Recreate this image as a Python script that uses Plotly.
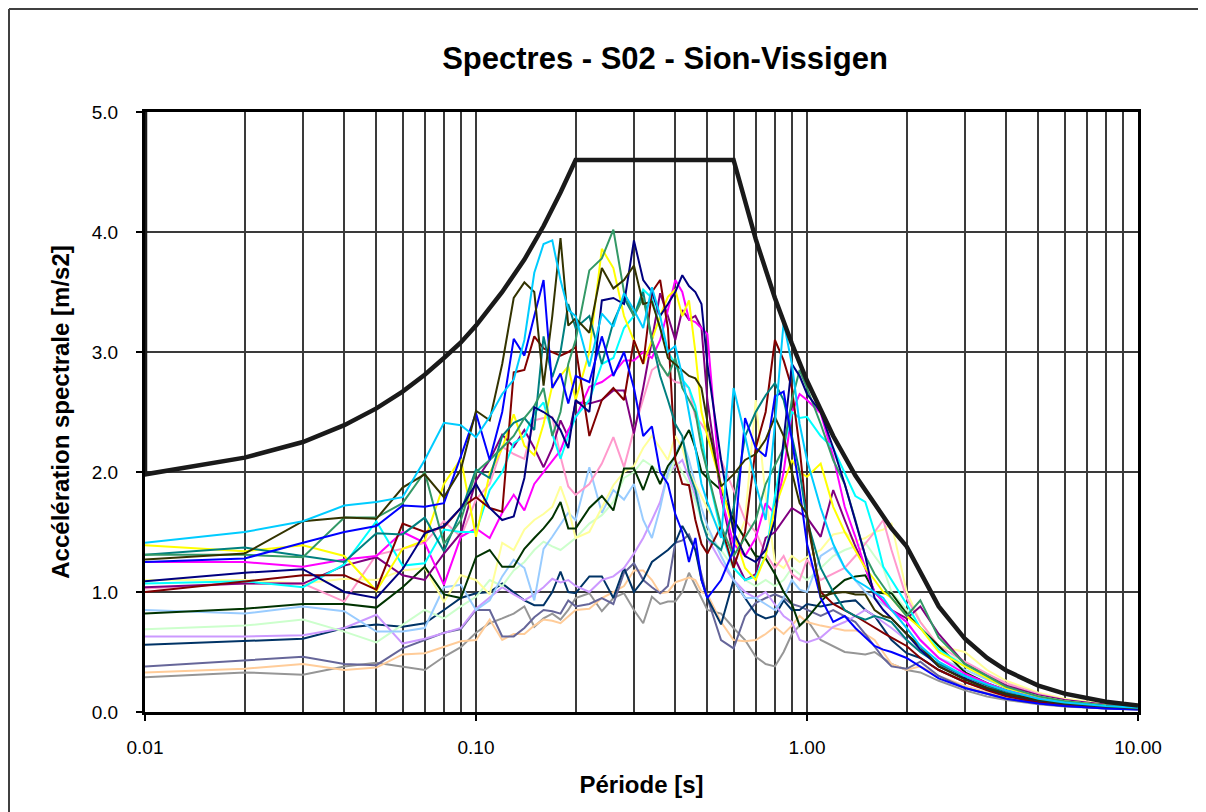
import plotly.graph_objects as go

# ---------------- data ----------------
periods = [0.01, 0.02, 0.03, 0.04, 0.05, 0.06, 0.07, 0.08, 0.09, 0.10,
           0.11, 0.12, 0.13, 0.14, 0.15, 0.16, 0.17, 0.18, 0.19, 0.20,
           0.22, 0.24, 0.26, 0.28, 0.30, 0.32, 0.34, 0.36, 0.38, 0.40,
           0.42, 0.44, 0.46, 0.48, 0.50, 0.55, 0.60, 0.65, 0.70, 0.75,
           0.80, 0.85, 0.90, 0.95, 1.0, 1.1, 1.2, 1.3, 1.4, 1.5,
           1.6, 1.7, 1.8, 2.0, 2.2, 2.5, 3.0, 3.5, 4.0, 5.0,
           6.0, 8.0, 10.0]

s_deepsky = [1.41, 1.50, 1.59, 1.72, 1.75, 1.79, 2.10, 2.41, 2.39, 2.29,
             2.46, 2.65, 2.77, 3.10, 3.66, 3.90, 3.93, 3.60, 3.35, 3.30,
             2.88, 3.32, 3.21, 3.49, 3.35, 3.20, 3.54, 3.30, 3.00, 3.05,
             2.80, 2.50, 2.20, 1.90, 1.75, 1.45, 2.70, 2.30, 1.90, 1.60,
             2.40, 3.25, 2.90, 2.40, 2.10, 1.70, 1.40, 1.20, 1.10, 1.05,
             1.00, 0.95, 0.85, 0.70, 0.55, 0.42, 0.30, 0.23, 0.18, 0.11,
             0.08, 0.05, 0.035]
s_olive = [1.27, 1.32, 1.59, 1.62, 1.61, 1.87, 1.98, 1.79, 2.02, 2.51,
           2.43, 2.90, 3.45, 3.58, 3.50, 2.72, 3.30, 3.95, 3.22, 3.28,
           3.16, 3.70, 3.53, 3.60, 3.72, 3.40, 3.42, 3.20, 2.95, 2.90,
           2.85, 2.80, 2.78, 2.70, 2.42, 1.88, 1.98, 2.10, 2.15, 2.27,
           2.46, 2.30, 2.00, 1.74, 1.65, 0.96, 0.99, 1.00, 0.98, 0.98,
           0.85, 0.80, 0.78, 0.65, 0.55, 0.38, 0.27, 0.20, 0.15, 0.10,
           0.07, 0.045, 0.03]
s_seagreen = [1.31, 1.31, 1.29, 1.62, 1.62, 1.74, 2.00, 1.40, 1.60, 2.00,
              2.10, 2.20, 2.30, 2.45, 2.55, 2.70, 2.30, 2.50, 2.90, 3.10,
              3.68, 3.78, 4.02, 3.50, 3.30, 3.45, 3.10, 2.90, 2.80, 2.95,
              2.70, 2.60, 2.50, 2.20, 2.00, 1.55, 1.30, 1.45, 1.60, 1.90,
              2.05, 2.20, 2.60, 2.85, 2.70, 2.40, 2.10, 1.90, 1.60, 1.30,
              1.15, 1.05, 0.95, 0.80, 0.93, 0.62, 0.40, 0.30, 0.21, 0.13,
              0.09, 0.055, 0.04]
s_teal = [1.31, 1.37, 1.30, 1.25, 1.49, 1.48, 1.62, 1.34, 1.67, 2.02,
          1.95, 2.30, 2.41, 2.45, 2.35, 3.13, 2.79, 3.00, 3.40, 3.20,
          3.30, 2.90, 3.25, 3.45, 3.30, 3.50, 3.10, 2.80, 2.60, 2.40,
          2.30, 2.00, 1.85, 1.60, 1.45, 1.35, 1.70, 2.30, 2.50, 2.64,
          2.74, 2.60, 2.30, 2.00, 1.60, 1.20, 1.00, 0.85, 0.80, 0.77,
          0.80, 0.78, 0.75, 0.60, 0.50, 0.40, 0.30, 0.22, 0.16, 0.10,
          0.07, 0.045, 0.03]
s_blue = [1.25, 1.28, 1.41, 1.50, 1.55, 1.72, 1.71, 1.74, 2.13, 2.49,
          2.10, 2.50, 3.11, 2.97, 3.30, 3.60, 2.70, 2.82, 2.57, 2.80,
          2.75, 3.13, 2.80, 3.00, 2.70, 2.30, 2.38, 2.00, 1.90, 1.65,
          1.50, 1.25, 1.45, 1.10, 0.95, 1.10, 1.35, 2.45, 2.20, 2.13,
          2.63, 2.67, 2.27, 1.85, 1.40, 0.95, 0.75, 0.80, 0.70, 0.62,
          0.55, 0.52, 0.50, 0.45, 0.38, 0.28, 0.20, 0.15, 0.11, 0.07,
          0.05, 0.03, 0.02]
s_navy = [1.09, 1.16, 1.19, 1.00, 0.95, 1.19, 1.49, 1.55, 1.70, 1.90,
          1.70, 1.60, 1.63, 1.95, 2.54, 2.50, 2.45, 2.35, 2.20, 2.60,
          2.50, 3.43, 3.45, 3.40, 3.93, 3.60, 3.50, 3.30, 3.40, 3.50,
          3.64, 3.55, 3.50, 3.40, 2.90, 2.10, 1.50, 1.30, 1.25, 1.35,
          1.60, 2.30, 2.90, 2.80, 2.65, 2.50, 2.20, 1.90, 1.60, 1.30,
          0.95, 0.85, 0.78, 0.65, 0.52, 0.38, 0.28, 0.20, 0.15, 0.10,
          0.07, 0.045, 0.03]
s_darkred = [1.00, 1.09, 1.14, 1.14, 1.02, 1.57, 1.50, 1.54, 1.70, 1.79,
             1.70, 1.67, 2.83, 2.85, 3.13, 3.03, 3.00, 2.97, 3.00, 3.04,
             2.30, 2.60, 2.70, 2.60, 3.10, 2.90, 3.50, 3.60, 3.20, 2.10,
             1.90, 1.89, 1.60, 1.40, 1.32, 1.55, 1.20, 1.50, 2.20, 2.50,
             3.10, 2.93, 2.70, 2.20, 1.60, 1.00, 0.90, 0.85, 0.80, 0.75,
             0.70, 0.66, 0.62, 0.55, 0.45, 0.35, 0.25, 0.18, 0.13, 0.08,
             0.06, 0.035, 0.025]
s_magenta = [1.25, 1.25, 1.21, 1.27, 1.30, 1.50, 1.41, 1.06, 1.46, 1.53,
             1.45, 1.66, 1.81, 1.68, 1.90, 2.00, 2.10, 2.18, 2.35, 2.45,
             2.71, 2.75, 2.82, 2.93, 2.93, 3.00, 2.95, 3.10, 3.35, 3.60,
             3.50, 3.27, 3.25, 3.20, 3.15, 1.80, 1.40, 1.30, 1.45, 1.74,
             1.65, 2.00, 2.50, 2.65, 2.60, 2.49, 2.13, 1.71, 1.46, 1.20,
             1.00, 0.92, 0.85, 0.75, 0.60, 0.45, 0.32, 0.24, 0.18, 0.12,
             0.08, 0.05, 0.035]
s_purple = [1.04, 1.07, 1.07, 1.22, 1.29, 1.14, 1.10, 1.32, 1.49, 1.93,
            2.10, 2.31, 2.21, 2.35, 2.20, 2.04, 2.20, 2.43, 2.29, 2.58,
            2.57, 2.60, 2.68, 2.68, 2.32, 2.70, 3.10, 3.49, 3.30, 3.10,
            3.35, 3.27, 3.30, 3.20, 2.60, 1.80, 1.30, 1.10, 1.15, 1.45,
            1.50, 1.60, 1.70, 1.66, 1.62, 1.46, 1.85, 1.60, 1.38, 1.20,
            1.00, 0.92, 0.85, 0.78, 0.88, 0.65, 0.40, 0.30, 0.22, 0.14,
            0.10, 0.06, 0.04]
s_yellow = [1.39, 1.34, 1.39, 1.30, 1.01, 1.36, 1.43, 1.90, 2.11, 1.46,
            1.99, 2.20, 2.48, 2.22, 2.14, 2.40, 2.72, 2.80, 2.88, 2.60,
            3.00, 3.86, 3.70, 3.30, 3.10, 2.90, 3.10, 3.30, 3.46, 3.52,
            3.30, 3.43, 3.00, 2.50, 2.30, 1.90, 1.50, 1.20, 1.10, 1.30,
            1.70, 1.90, 2.10, 2.00, 1.96, 2.07, 1.71, 1.50, 1.35, 1.20,
            1.10, 1.00, 0.95, 0.80, 0.70, 0.50, 0.38, 0.28, 0.20, 0.13,
            0.09, 0.055, 0.04]
s_cyan = [1.07, 1.09, 1.04, 1.23, 1.59, 1.22, 1.24, 1.52, 1.50, 1.50,
          1.85, 2.00, 2.24, 2.30, 2.49, 2.58, 2.32, 2.11, 2.30, 2.46,
          2.60, 2.90, 2.95, 3.20, 3.30, 3.52, 3.45, 3.20, 3.00, 2.90,
          2.77, 2.70, 2.55, 2.30, 2.00, 1.50, 1.20, 1.10, 1.13, 1.30,
          1.80, 2.20, 2.50, 2.45, 2.46, 2.30, 2.20, 1.99, 1.80, 1.75,
          1.50, 1.21, 1.10, 0.90, 0.70, 0.52, 0.38, 0.28, 0.20, 0.13,
          0.09, 0.055, 0.04]
s_pink = [1.03, 1.07, 1.07, 0.92, 1.31, 1.36, 1.41, 1.59, 1.46, 1.77,
          1.90, 2.21, 2.15, 2.11, 2.43, 2.45, 2.46, 2.13, 1.88, 1.81,
          1.90, 2.07, 2.29, 2.04, 2.35, 2.60, 2.85, 2.90, 2.80, 2.75,
          2.74, 2.70, 2.46, 2.40, 2.32, 2.10, 1.85, 1.60, 1.50, 1.32,
          1.20, 1.30, 1.15, 1.10, 1.27, 1.10, 1.15, 1.20, 1.30, 1.40,
          1.50, 1.60, 1.35, 0.95, 0.75, 0.55, 0.42, 0.32, 0.24, 0.15,
          0.10, 0.06, 0.045]
s_lightyellow = [1.10, 1.10, 1.07, 1.11, 1.10, 1.18, 1.20, 0.92, 1.14, 1.10,
                 0.98, 1.41, 1.35, 1.52, 1.60, 1.65, 1.71, 1.88, 1.70, 1.45,
                 1.50, 1.70, 1.89, 2.00, 2.05, 2.20, 2.30, 2.20, 2.10, 2.30,
                 2.20, 2.00, 1.90, 1.80, 1.70, 1.50, 1.35, 1.60, 2.60, 1.80,
                 1.25, 1.20, 1.30, 1.25, 1.29, 1.35, 1.48, 1.50, 1.42, 1.45,
                 1.50, 1.52, 1.57, 1.00, 0.75, 0.55, 0.50, 0.35, 0.26, 0.16,
                 0.11, 0.07, 0.05]
s_lightgreen = [0.69, 0.72, 0.77, 0.67, 0.58, 0.73, 0.85, 0.78, 0.88, 0.96,
                1.10, 1.05, 1.18, 1.25, 1.35, 1.42, 1.38, 1.35, 1.40, 1.45,
                1.57, 1.64, 1.75, 1.95, 2.00, 2.10, 2.05, 2.00, 1.95, 2.10,
                2.00, 1.90, 1.75, 1.60, 1.50, 1.35, 1.20, 1.10, 1.05, 1.10,
                1.05, 1.10, 1.20, 1.15, 1.10, 1.20, 1.30, 1.35, 1.38, 1.41,
                1.30, 1.20, 1.00, 0.85, 0.70, 0.52, 0.40, 0.30, 0.22, 0.14,
                0.10, 0.06, 0.045]
s_paleblue = [0.85, 0.82, 0.88, 0.84, 0.67, 0.67, 0.70, 1.04, 1.06, 0.85,
              0.93, 1.13, 1.27, 1.20, 0.93, 1.36, 1.46, 1.56, 1.66, 1.60,
              2.04, 1.66, 1.85, 1.77, 1.90, 1.60, 1.45, 1.70, 2.00, 2.15,
              2.27, 2.10, 1.90, 1.70, 1.55, 1.30, 1.10, 0.95, 0.95, 0.90,
              0.85, 0.95, 1.10, 1.02, 1.00, 1.30, 1.37, 1.20, 1.10, 1.00,
              0.95, 0.90, 0.85, 0.75, 0.60, 0.45, 0.35, 0.27, 0.20, 0.13,
              0.09, 0.055, 0.04]
s_lavender = [0.63, 0.63, 0.64, 0.70, 0.81, 0.57, 0.61, 0.66, 0.70, 0.86,
              0.95, 1.04, 0.98, 0.93, 0.98, 1.04, 1.11, 1.08, 1.10, 1.05,
              1.00, 1.10, 1.13, 1.20, 1.32, 1.45, 1.60, 1.75, 1.99, 2.05,
              2.10, 1.95, 1.80, 1.60, 1.45, 1.25, 1.10, 1.00, 0.95, 1.00,
              0.90, 0.80, 0.75, 0.60, 0.58, 0.62, 0.71, 0.75, 0.80, 0.85,
              0.80, 0.75, 0.70, 0.60, 0.50, 0.40, 0.30, 0.22, 0.17, 0.11,
              0.08, 0.05, 0.035]
s_darkgreen = [0.82, 0.86, 0.90, 0.90, 0.87, 1.04, 1.21, 0.98, 0.95, 1.29,
               1.35, 1.21, 1.21, 1.36, 1.45, 1.53, 1.62, 1.75, 1.53, 1.53,
               1.70, 1.80, 1.68, 2.03, 2.03, 1.85, 2.05, 1.90, 2.05, 2.13,
               2.25, 2.35, 2.20, 2.00, 1.95, 1.85, 1.60, 1.45, 1.30, 1.28,
               1.15, 1.00, 0.90, 0.72, 0.78, 0.92, 1.02, 1.10, 1.13, 1.14,
               1.00, 0.99, 0.99, 0.82, 0.70, 0.55, 0.33, 0.24, 0.18, 0.11,
               0.08, 0.05, 0.035]
s_slateblue = [0.56, 0.59, 0.61, 0.70, 0.73, 0.71, 0.74, 0.85, 0.95, 0.99,
               1.00, 1.07, 1.00, 0.93, 0.89, 0.89, 1.00, 1.17, 1.00, 0.99,
               1.13, 1.13, 0.95, 1.20, 1.00, 1.10, 1.25, 1.30, 1.35, 1.41,
               1.55, 1.45, 1.35, 1.10, 0.95, 0.73, 1.10, 0.95, 0.82, 0.78,
               0.80, 0.93, 0.85, 0.85, 0.90, 0.88, 0.90, 0.92, 0.93, 0.85,
               0.80, 0.70, 0.60, 0.49, 0.45, 0.35, 0.25, 0.19, 0.14, 0.09,
               0.06, 0.04, 0.03]
s_slate = [0.38, 0.43, 0.46, 0.40, 0.39, 0.53, 0.60, 0.66, 0.69, 0.85,
           0.85, 0.63, 0.63, 0.70, 0.79, 0.85, 0.84, 0.82, 0.93, 0.88,
           0.90, 0.95, 0.90, 1.16, 1.24, 1.10, 1.04, 0.99, 1.05, 1.41,
           1.43, 1.48, 1.35, 1.15, 0.95, 0.60, 0.53, 0.80, 0.91, 0.95,
           0.98, 0.95, 0.90, 0.88, 0.85, 0.80, 0.85, 0.80, 0.75, 0.65,
           0.55, 0.45, 0.38, 0.36, 0.42, 0.30, 0.20, 0.15, 0.11, 0.07,
           0.05, 0.03, 0.02]
s_tan = [0.33, 0.36, 0.40, 0.35, 0.37, 0.48, 0.49, 0.54, 0.59, 0.60,
         0.77, 0.60, 0.65, 0.65, 0.72, 0.77, 0.76, 0.74, 0.80, 0.85,
         0.86, 0.95, 1.00, 1.05, 1.18, 1.18, 1.10, 0.99, 1.00, 1.08,
         1.10, 1.12, 1.10, 1.00, 0.98, 0.75, 0.60, 0.59, 0.60, 0.65,
         0.71, 0.65, 0.72, 0.80, 0.75, 0.72, 0.70, 0.68, 0.68, 0.65,
         0.60, 0.50, 0.40, 0.35, 0.38, 0.30, 0.22, 0.16, 0.12, 0.08,
         0.055, 0.035, 0.025]
s_gray = [0.29, 0.33, 0.31, 0.38, 0.41, 0.38, 0.35, 0.46, 0.54, 0.66,
          0.74, 0.78, 0.82, 0.88, 0.71, 0.78, 0.82, 0.77, 0.85, 0.95,
          0.99, 0.84, 0.95, 0.99, 0.85, 0.74, 0.96, 0.90, 0.92, 0.92,
          1.00, 1.16, 1.05, 0.95, 0.85, 0.82, 0.70, 0.60, 0.46, 0.40,
          0.38, 0.50, 0.65, 0.72, 0.77, 0.60, 0.55, 0.50, 0.49, 0.48,
          0.50, 0.45, 0.40, 0.35, 0.33, 0.26, 0.18, 0.13, 0.10, 0.065,
          0.045, 0.03, 0.02]

# design spectrum (black)
design_periods = [0.01, 0.01, 0.02, 0.03, 0.04, 0.05, 0.06, 0.07, 0.08, 0.09,
                  0.10, 0.12, 0.14, 0.16, 0.18, 0.20, 0.60, 0.70, 0.80, 0.90,
                  1.0, 1.2, 1.4, 1.6, 1.8, 2.0, 2.5, 3.0, 3.5, 4.0,
                  5.0, 6.0, 7.0, 8.0, 9.0, 10.0]
design_values = [5.0, 1.98, 2.12, 2.25, 2.39, 2.53, 2.67, 2.81, 2.95, 3.08,
                 3.22, 3.50, 3.77, 4.05, 4.33, 4.60, 4.60, 3.94, 3.45, 3.07,
                 2.76, 2.30, 1.97, 1.73, 1.53, 1.38, 0.88, 0.61, 0.45, 0.345,
                 0.22, 0.153, 0.113, 0.086, 0.068, 0.055]

x_tickvals = [0.01, 0.1, 1, 10]
x_ticktext = ["0.01", "0.10", "1.00", "10.00"]

# ---------------- styles ----------------
series = [
    (s_gray, "#969696"), (s_tan, "#FFCC99"), (s_slate, "#666699"),
    (s_slateblue, "#003366"), (s_lavender, "#CC99FF"), (s_lightgreen, "#CCFFCC"),
    (s_paleblue, "#99CCFF"), (s_lightyellow, "#FFFF99"), (s_pink, "#FF99CC"),
    (s_darkgreen, "#003300"), (s_purple, "#800080"), (s_magenta, "#FF00FF"),
    (s_cyan, "#00FFFF"), (s_yellow, "#FFFF00"), (s_darkred, "#800000"),
    (s_teal, "#008080"), (s_seagreen, "#339966"), (s_navy, "#000080"),
    (s_blue, "#0000FF"), (s_olive, "#333300"), (s_deepsky, "#00CCFF"),
]

FONT = "Liberation Sans, Arial, sans-serif"
GRID = "#3a3a3a"

fig = go.Figure()
for vals, col in series:
    fig.add_trace(go.Scatter(x=periods, y=vals, mode="lines",
                             line=dict(color=col, width=2), hoverinfo="skip"))
fig.add_trace(go.Scatter(x=design_periods, y=design_values, mode="lines",
                         line=dict(color="#1a1a1a", width=4.5), hoverinfo="skip"))

# the page body adds an 8 px offset; figure is sized so the plot area lands
# on screen at x 145..1138, y 112..712
OFF = 8
L, R, T, B = 137, 68, 104, 100
W, H = 1198, 804
pw, ph = W - L - R, H - T - B


def px_x(sx):
    return (sx - OFF - L) / pw


def px_y(sy):
    return (OFF + H - B - sy) / ph


fig.update_layout(
    width=W, height=H,
    margin=dict(l=L, r=R, t=T, b=B, autoexpand=False),
    paper_bgcolor="white", plot_bgcolor="white",
    showlegend=False,
    font=dict(family=FONT, color="black"),
    title=dict(text="<b>Spectres - S02 - Sion-Vissigen</b>",
               font=dict(size=31, family=FONT, color="black"),
               x=(665 - OFF) / W, xanchor="center", xref="container",
               y=1 - (58 - OFF) / H, yanchor="middle", yref="container"),
    xaxis=dict(type="log", range=[-2, 1],
               tickmode="array", tickvals=x_tickvals, ticktext=x_ticktext,
               tickfont=dict(size=19, family=FONT, color="black"),
               ticks="outside", ticklen=6, tickwidth=2, tickcolor="black",
               ticklabelstandoff=10,
               showgrid=True, gridcolor=GRID, gridwidth=2,
               minor=dict(dtick="D1", showgrid=True, gridcolor=GRID, gridwidth=2, ticks=""),
               showline=True, linecolor="black", linewidth=3, mirror=True,
               zeroline=False,
               title=dict(text="<b>Période [s]</b>", font=dict(size=24, family=FONT, color="black"),
                          standoff=20)),
    yaxis=dict(range=[0, 5], tickmode="linear", tick0=0, dtick=1, tickformat=".1f",
               tickfont=dict(size=19, family=FONT, color="black"),
               ticks="outside", ticklen=6, tickwidth=2, tickcolor="black",
               ticklabelstandoff=14,
               showgrid=True, gridcolor=GRID, gridwidth=2,
               showline=True, linecolor="black", linewidth=3, mirror=True,
               zeroline=False,
               title=dict(text="<b>Accélération spectrale [m/s2]</b>",
                          font=dict(size=24, family=FONT, color="black"),
                          standoff=16)),
    shapes=[
        dict(type="line", xref="paper", yref="paper",
             x0=px_x(9), x1=px_x(1215), y0=px_y(9), y1=px_y(9),
             line=dict(color="#404040", width=2)),
        dict(type="line", xref="paper", yref="paper",
             x0=px_x(9), x1=px_x(9), y0=px_y(9), y1=px_y(820),
             line=dict(color="#404040", width=2)),
    ],
)

fig.write_html("out.html")
